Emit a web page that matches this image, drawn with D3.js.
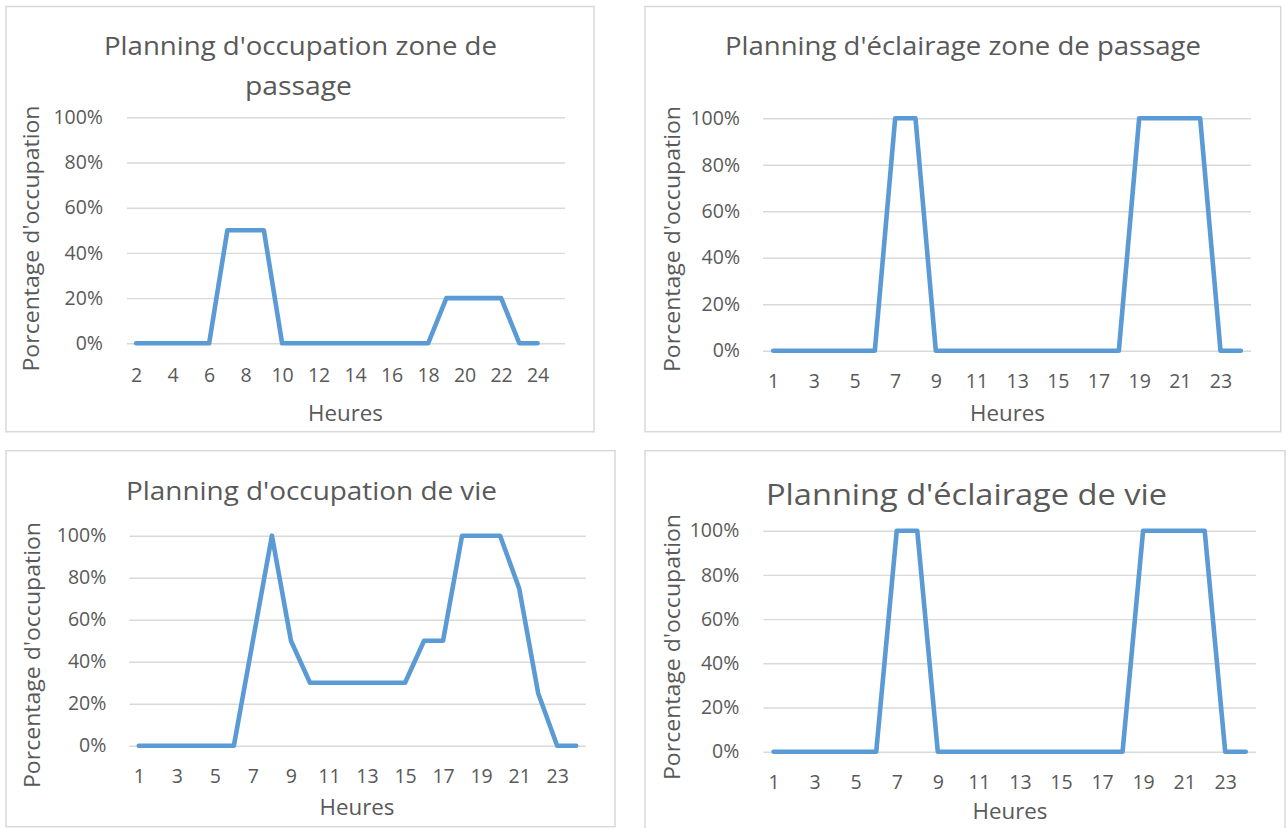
<!DOCTYPE html>
<html>
<head>
<meta charset="utf-8">
<script src="https://cdn.jsdelivr.net/npm/d3@7"></script>
<style>
  html, body { margin: 0; padding: 0; background: #ffffff; }
  svg { display: block; font-family: "Open Sans", "Noto Sans", sans-serif; }
</style>
</head>
<body>
<svg id="chart" width="1288" height="828"></svg>
<script>
// Hour categories for each schedule
const hoursPassage = ["2","3","4","5","6","7","8","9","10","11","12","13","14","15","16","17","18","19","20","21","22","23","24",""];
const hoursDay = ["1","2","3","4","5","6","7","8","9","10","11","12","13","14","15","16","17","18","19","20","21","22","23","24"];

// Occupation / lighting ratios per hour
const occupationPassage = [0,0,0,0,0,0.5,0.5,0.5,0,0,0,0,0,0,0,0,0,0.2,0.2,0.2,0.2,0,0];
const lightingPassage = [0,0,0,0,0,0,1,1,0,0,0,0,0,0,0,0,0,0,1,1,1,1,0,0];
const occupationLiving = [0,0,0,0,0,0,0.5,1,0.5,0.3,0.3,0.3,0.3,0.3,0.3,0.5,0.5,1,1,1,0.75,0.25,0,0];
const lightingLiving = [0,0,0,0,0,0,1,1,0,0,0,0,0,0,0,0,0,0,1,1,1,1,0,0];

// Axis ticks and labels
const percentTicks = [0, 0.2, 0.4, 0.6, 0.8, 1];
const xAxisTitle = "Heures";
const yAxisTitle = "Porcentage d'occupation";

const TEXT = "#595959", GRID = "#d9d9d9", LINE = "#5b9bd5";
const TICK_SIZE = 19.5;
const svg = d3.select("#chart");

function drawPanel(p) {
  const g = svg.append("g");

  // chart frame
  g.append("rect")
    .attr("x", p.frame[0]).attr("y", p.frame[1])
    .attr("width", p.frame[2] - p.frame[0]).attr("height", p.frame[3] - p.frame[1])
    .attr("fill", "#fff").attr("stroke", GRID).attr("stroke-width", 1.5);

  const [x0, y0, x1, y1] = p.plot;
  const x = d3.scalePoint().domain(p.categories).range([x0, x1]).padding(0.5);
  const y = d3.scaleLinear().domain([0, 1]).range([y1, y0]);

  // horizontal gridlines
  const grid = g.append("g").attr("transform", `translate(${x0},0)`)
    .call(d3.axisLeft(y).tickValues(percentTicks).tickSize(-(x1 - x0)).tickFormat(""));
  grid.select(".domain").remove();
  grid.selectAll("line").attr("stroke", GRID).attr("stroke-width", 1.4);

  // percentage labels
  const ya = g.append("g").attr("transform", `translate(${x0},0)`)
    .call(d3.axisLeft(y).tickValues(percentTicks).tickSize(0).tickPadding(p.yPad).tickFormat(d3.format(".0%")));
  ya.select(".domain").remove();
  ya.selectAll("text").attr("fill", TEXT).attr("font-size", TICK_SIZE).attr("font-family", "Open Sans");

  // hour labels, every second category
  const shown = p.categories.filter((d, i) => i % 2 === 0 && d !== "");
  const xa = g.append("g").attr("transform", `translate(0,${y1})`)
    .call(d3.axisBottom(x).tickValues(shown).tickSize(0));
  xa.select(".domain").remove();
  xa.selectAll("text").attr("dy", null).attr("y", p.xLabelBase - y1)
    .attr("fill", TEXT).attr("font-size", TICK_SIZE).attr("font-family", "Open Sans");

  // series line
  const pts = p.values.map((v, i) => ({ c: p.categories[i], v }));
  g.append("path")
    .datum(pts)
    .attr("fill", "none").attr("stroke", LINE).attr("stroke-width", 4.6)
    .attr("stroke-linejoin", "round").attr("stroke-linecap", "round")
    .attr("d", d3.line().defined(d => d.v != null).x(d => x(d.c)).y(d => y(d.v)));

  // chart title
  p.title.forEach(t => {
    g.append("text").attr("x", t.cx).attr("y", t.base)
      .attr("text-anchor", "middle").attr("fill", TEXT)
      .attr("font-size", t.size)
      .attr("textLength", t.len).attr("lengthAdjust", "spacingAndGlyphs")
      .text(t.text);
  });

  // axis titles
  g.append("text").attr("x", p.xTitle[0]).attr("y", p.xTitle[1])
    .attr("text-anchor", "middle").attr("fill", TEXT).attr("font-size", 22)
    .attr("textLength", 75).attr("lengthAdjust", "spacingAndGlyphs")
    .text(xAxisTitle);
  g.append("text")
    .attr("transform", `translate(${p.yTitle[0]},${p.yTitle[1]}) rotate(-90)`)
    .attr("text-anchor", "middle").attr("fill", TEXT).attr("font-size", 22)
    .attr("textLength", 266).attr("lengthAdjust", "spacingAndGlyphs")
    .text(yAxisTitle);
}

drawPanel({
  frame: [6, 6.5, 594, 431.7],
  plot: [127, 117.3, 565, 343.3],
  categories: hoursPassage, values: occupationPassage,
  yPad: 24, xLabelBase: 381.7,
  title: [
    { text: "Planning d'occupation zone de", cx: 300.5, base: 55, size: 25, len: 393 },
    { text: "passage", cx: 298.5, base: 95, size: 25, len: 107 }
  ],
  xTitle: [345.5, 420.7], yTitle: [39, 238.5]
});

drawPanel({
  frame: [645, 6.5, 1280.7, 431.7],
  plot: [763, 118.3, 1251, 350.7],
  categories: hoursDay, values: lightingPassage,
  yPad: 23, xLabelBase: 388,
  title: [
    { text: "Planning d'éclairage zone de passage", cx: 963, base: 55, size: 25, len: 476 }
  ],
  xTitle: [1007.5, 420.7], yTitle: [680, 239]
});

drawPanel({
  frame: [6, 450.7, 615, 826.7],
  plot: [129.3, 535.7, 585.7, 745.7],
  categories: hoursDay, values: occupationLiving,
  yPad: 23, xLabelBase: 783.3,
  title: [
    { text: "Planning d'occupation de vie", cx: 311.5, base: 500, size: 25.5, len: 371 }
  ],
  xTitle: [357, 815], yTitle: [40, 655]
});

drawPanel({
  frame: [645, 450.7, 1285, 832],
  plot: [763.3, 530.7, 1256, 751.7],
  categories: hoursDay, values: lightingLiving,
  yPad: 24, xLabelBase: 789,
  title: [
    { text: "Planning d'éclairage de vie", cx: 966.5, base: 505, size: 30, len: 401 }
  ],
  xTitle: [1010, 819], yTitle: [680, 647]
});
</script>
</body>
</html>
